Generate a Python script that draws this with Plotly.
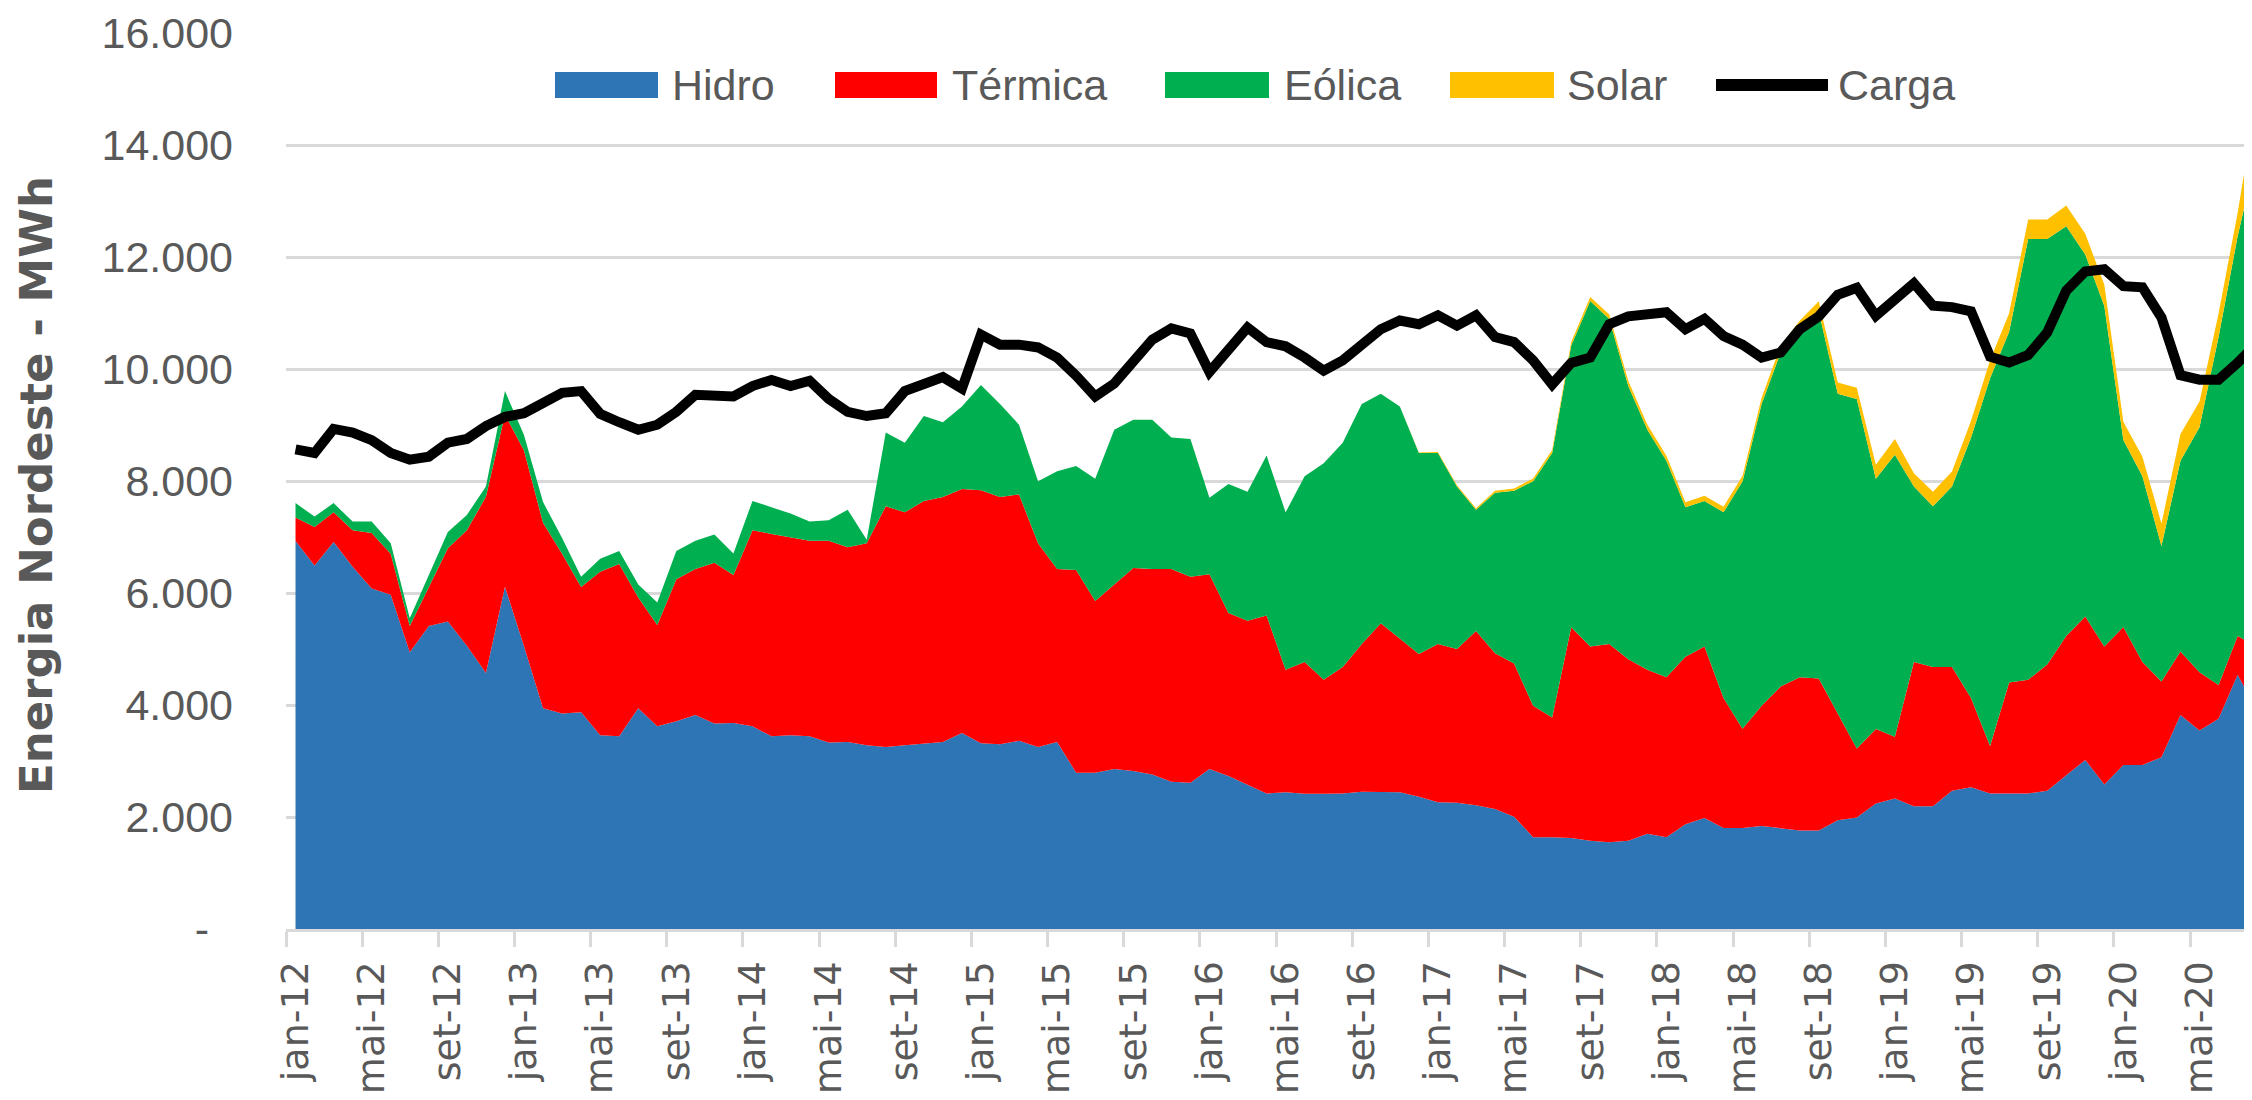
import plotly.graph_objects as go

# ---------------- data (monthly, jan-12 .. ago-20) ----------------
hidro = [6930, 6490, 6910, 6470, 6080, 5970, 4940, 5410, 5490, 5060, 4570, 6110,
         5050, 3940, 3850, 3870, 3460, 3440, 3940, 3620, 3710, 3820, 3670, 3680,
         3620, 3440, 3460, 3440, 3330, 3340, 3280, 3250, 3280, 3315, 3340, 3500,
         3315, 3300, 3360, 3250, 3340, 2790, 2790, 2855, 2820, 2760, 2630, 2610,
         2855, 2730, 2570, 2420, 2440, 2415, 2415, 2420, 2450, 2450, 2440, 2360,
         2265, 2255, 2210, 2145, 2005, 1640, 1640, 1625, 1575, 1550, 1575, 1700,
         1640, 1870, 1980, 1805, 1805, 1840, 1805, 1760, 1760, 1940, 1990, 2240,
         2330, 2190, 2190, 2470, 2530, 2420, 2420, 2420, 2470, 2745, 3020, 2580,
         2930, 2930, 3065, 3820, 3545, 3755, 4540, 3920]

termica = [420, 690, 530, 650, 990, 730, 470, 690, 1310, 2060, 3150, 3080,
           3495, 3315, 2850, 2235, 2920, 3080, 1980, 1810, 2535, 2610, 2870, 2640,
           3500, 3615, 3540, 3495, 3605, 3475, 3610, 4300, 4160, 4330, 4375, 4355,
           4520, 4415, 4400, 3640, 3090, 3620, 3065, 3295, 3625, 3670, 3800, 3680,
           3480, 2915, 2935, 3180, 2190, 2355, 2035, 2260, 2640, 3010, 2745, 2550,
           2825, 2745, 3110, 2780, 2735, 2345, 2135, 3765, 3470, 3540, 3240, 2930,
           2855, 2990, 3065, 2320, 1770, 2145, 2525, 2735, 2715, 1910, 1235, 1330,
           1105, 2580, 2490, 2210, 1595, 850, 1980, 2030, 2255, 2485, 2560, 2465,
           2465, 1840, 1355, 1135, 1040, 600, 690, 1130]

eolica = [255, 185, 165, 155, 205, 190, 140, 235, 290, 275, 180, 415,
          275, 370, 280, 185, 230, 230, 230, 400, 505, 505, 505, 385,
          525, 475, 420, 340, 365, 670, 60, 1315, 1245, 1515, 1335, 1475,
          1880, 1660, 1245, 1105, 1745, 1860, 2185, 2765, 2650, 2665, 2345, 2460,
          1365, 2300, 2305, 2855, 2810, 3315, 3865, 4005, 4285, 4100, 4145, 3590,
          3410, 2900, 2165, 2865, 3085, 4010, 4725, 5030, 6170, 5805, 4880, 4285,
          3865, 2670, 2600, 3315, 4420, 5390, 5965, 6215, 6555, 5710, 6240, 4470,
          5035, 3130, 2870, 3220, 4650, 6565, 6265, 7870, 7595, 7320, 6465, 6080,
          3335, 3315, 2420, 3405, 4375, 6215, 7135, 8800]

solar = [0, 0, 0, 0, 0, 0, 0, 0, 0, 0, 0, 0,
         0, 0, 0, 0, 0, 0, 0, 0, 0, 0, 0, 0,
         0, 0, 0, 0, 0, 0, 0, 0, 0, 0, 0, 0,
         0, 0, 0, 0, 0, 0, 0, 0, 0, 0, 0, 0,
         0, 0, 0, 0, 0, 0, 0, 0, 0, 0, 0, 10,
         20, 25, 30, 35, 40, 50, 55, 60, 70, 80, 90, 90,
         90, 90, 90, 100, 100, 110, 120, 150, 180, 200, 200, 250,
         280, 240, 260, 270, 300, 320, 330, 350, 350, 370, 370, 380,
         330, 350, 400, 480, 460, 420, 420, 1000]

carga = [8565, 8500, 8930, 8865, 8730, 8500, 8380, 8435, 8685, 8750, 8980, 9145,
         9210, 9375, 9575, 9605, 9200, 9050, 8915, 9005, 9235, 9540, 9530, 9510,
         9695, 9805, 9695, 9790, 9465, 9235, 9160, 9210, 9605, 9740, 9855, 9650,
         10615, 10435, 10435, 10385, 10205, 9880, 9510, 9740, 10155, 10525, 10725, 10635,
         9945, 10340, 10740, 10480, 10405, 10205, 9970, 10155, 10435, 10710, 10865, 10800,
         10960, 10775, 10960, 10570, 10480, 10155, 9725, 10110, 10205, 10800, 10940, 10985,
         11015, 10710, 10895, 10590, 10435, 10205, 10295, 10710, 10940, 11325, 11450, 10950,
         11260, 11530, 11130, 11105, 11030, 10220, 10115, 10250, 10650, 11400, 11740, 11780,
         11480, 11460, 10920, 9890, 9810, 9810, 10110, 10450]

x_tick_labels = ["jan-12", "mai-12", "set-12", "jan-13", "mai-13", "set-13",
                 "jan-14", "mai-14", "set-14", "jan-15", "mai-15", "set-15",
                 "jan-16", "mai-16", "set-16", "jan-17", "mai-17", "set-17",
                 "jan-18", "mai-18", "set-18", "jan-19", "mai-19", "set-19",
                 "jan-20", "mai-20"]
y_tick_values = [0, 2000, 4000, 6000, 8000, 10000, 12000, 14000, 16000]
y_tick_labels = ["-\u00a0\u00a0", "2.000", "4.000", "6.000", "8.000",
                 "10.000", "12.000", "14.000", "16.000"]

series_names = ["Hidro", "Térmica", "Eólica", "Solar"]
series_colors = ["#2E75B6", "#FF0000", "#00B050", "#FFC000"]
carga_name = "Carga"
y_title = "Energia Nordeste - MWh"

# ---------------- figure ----------------
# the page body adds an 8px offset, so the figure is 8px smaller and
# all screen positions below are shifted by that offset
OFF = 8
SCREEN_W, SCREEN_H = 2252, 1100
W, H = SCREEN_W - OFF, SCREEN_H - OFF
PLOT_L, PLOT_T, PLOT_B = 286, 33, 929          # screen pixels
ML, MR, MT = PLOT_L - OFF, 0, PLOT_T - OFF
MB = H - (PLOT_B - OFF)
PW, PH = W - ML - MR, H - MT - MB
MONTH_PX = 19.04

def px(xs):
    return (xs - PLOT_L) / PW

def py(ys):
    return (PLOT_B - ys) / PH

months = list(range(len(hidro)))
fig = go.Figure()
for name, vals, col in zip(series_names, [hidro, termica, eolica, solar], series_colors):
    fig.add_trace(go.Scatter(x=months, y=vals, name=name, stackgroup="gen",
                             mode="lines", line=dict(width=0, color=col),
                             fillcolor=col))
fig.add_trace(go.Scatter(x=months, y=carga, name=carga_name, mode="lines",
                         line=dict(color="black", width=10)))

grey_txt = "#595959"
grid = "#D9D9D9"

fig.update_layout(
    width=W, height=H,
    margin=dict(l=ML, r=MR, t=MT, b=MB, pad=0, autoexpand=False),
    paper_bgcolor="white", plot_bgcolor="white",
    showlegend=False,
    xaxis=dict(
        range=[-0.5, PW / MONTH_PX - 0.5],
        tickmode="array",
        tickvals=[4 * k for k in range(len(x_tick_labels))],
        ticktext=x_tick_labels,
        tickangle=-90,
        ticks="",
        showgrid=False, zeroline=False,
        showline=True, linecolor=grid, linewidth=3,
        tickfont=dict(family="DejaVu Sans", size=38, color=grey_txt),
        ticklabelstandoff=14,
        minor=dict(tickmode="array",
                   tickvals=[4 * k - 0.5 for k in range(len(x_tick_labels) + 1)],
                   ticks="outside", ticklen=15, tickwidth=3, tickcolor=grid,
                   showgrid=False),
    ),
    yaxis=dict(
        range=[0, 16000],
        tickmode="array", tickvals=y_tick_values, ticktext=y_tick_labels,
        showgrid=True, gridcolor=grid, gridwidth=3,
        zeroline=False, showline=False, ticks="",
        tickfont=dict(family="Liberation Sans, Arial", size=43, color=grey_txt),
        ticklabelstandoff=52,
    ),
)

# y-axis title
fig.add_annotation(text="<b>" + y_title + "</b>", xref="paper", yref="paper",
                   x=px(36), y=py(485), xanchor="center", yanchor="middle",
                   textangle=-90, showarrow=False,
                   font=dict(family="DejaVu Sans", size=45, color=grey_txt))

# legend (manual, to reproduce the wide swatches)
leg_y = 85
sw_x = [(555, 658), (835, 937), (1165, 1269), (1450, 1554)]
txt_x = [670, 950, 1282, 1565]
for (x0, x1), tx, name, col in zip(sw_x, txt_x, series_names, series_colors):
    fig.add_shape(type="rect", xref="paper", yref="paper",
                  x0=px(x0), x1=px(x1), y0=py(leg_y + 13), y1=py(leg_y - 13),
                  fillcolor=col, line=dict(width=0))
    fig.add_annotation(text=name, xref="paper", yref="paper", x=px(tx), y=py(leg_y),
                       xanchor="left", yanchor="middle", showarrow=False,
                       font=dict(family="Liberation Sans, Arial", size=43, color=grey_txt))
fig.add_shape(type="line", xref="paper", yref="paper",
              x0=px(1716), x1=px(1828), y0=py(leg_y), y1=py(leg_y),
              line=dict(color="black", width=12))
fig.add_annotation(text=carga_name, xref="paper", yref="paper", x=px(1836), y=py(leg_y),
                   xanchor="left", yanchor="middle", showarrow=False,
                   font=dict(family="Liberation Sans, Arial", size=43, color=grey_txt))

fig.write_html("out.html")
